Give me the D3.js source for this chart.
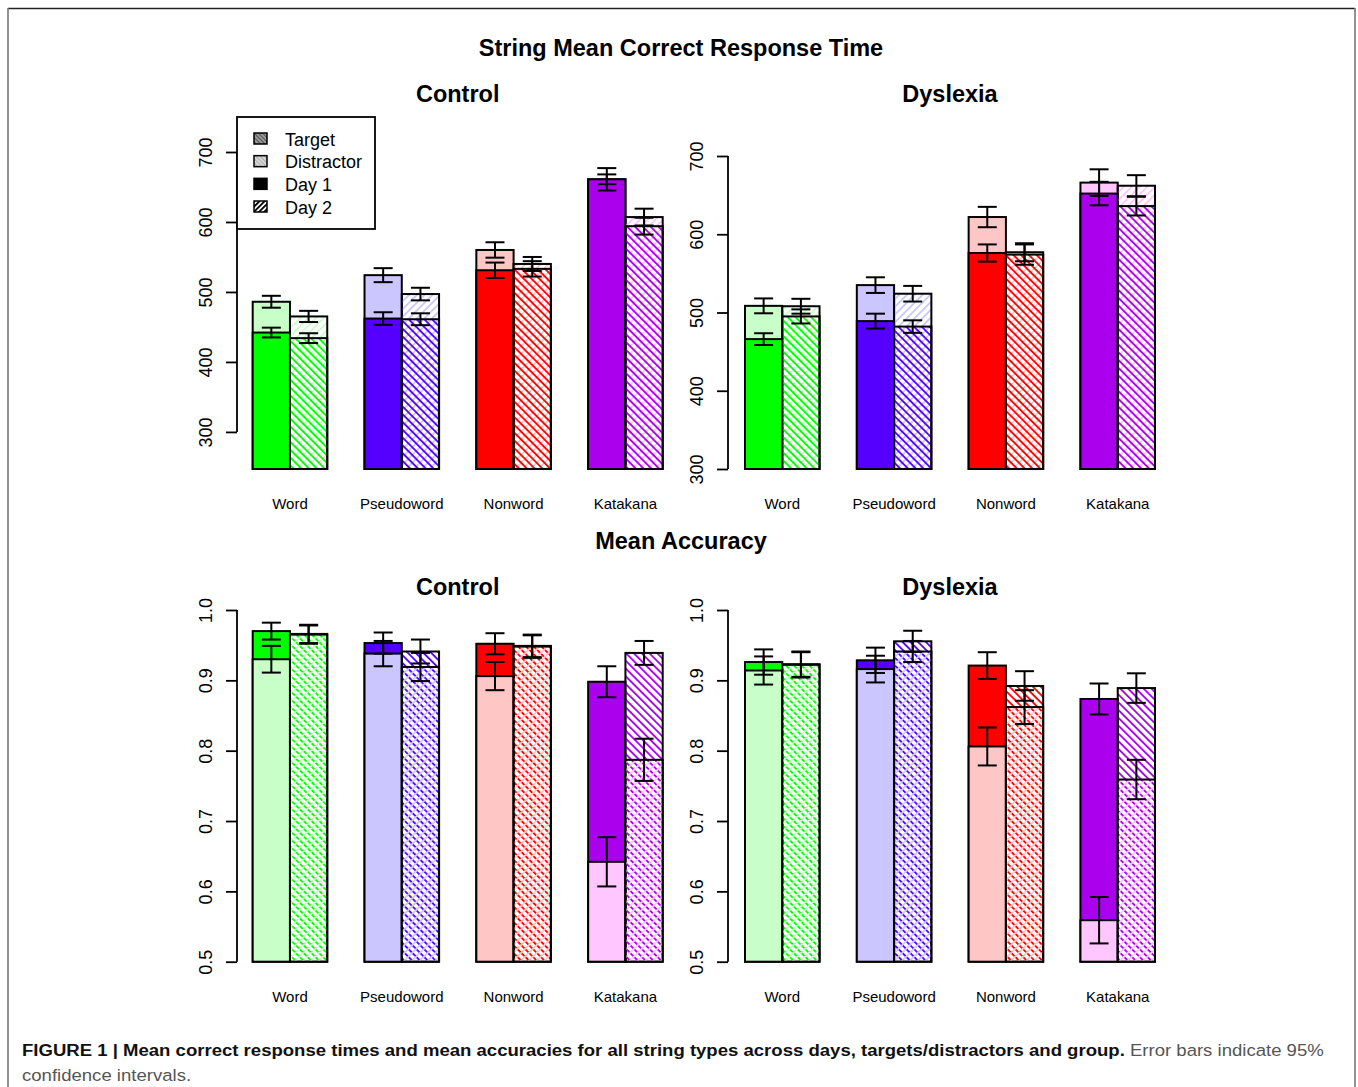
<!DOCTYPE html>
<html>
<head>
<meta charset="utf-8">
<script src="https://cdn.jsdelivr.net/npm/d3@7"></script>
<style>
  body { margin: 0; background: #fff; }
  svg text { font-family: "Liberation Sans", Arial, Helvetica, sans-serif; }
</style>
</head>
<body>
<svg id="fig" width="1358" height="1087"></svg>
<script>
// String types and their colour pairs (target = saturated, distractor = pale)
const categories = ['Word', 'Pseudoword', 'Nonword', 'Katakana'];
const darkColors = ['#00FF00', '#5500FF', '#FF0000', '#AA00EE'];
const lightColors = ['#C8FFC8', '#CCC6FF', '#FFC6C6', '#FFC6FF'];

const rtTicks = [300, 400, 500, 600, 700];
const accTicks = [0.5, 0.6, 0.7, 0.8, 0.9, 1.0];
const accTickLabels = ['0.5', '0.6', '0.7', '0.8', '0.9', '1.0'];

// Mean correct response time (ms) and 95% CI half-widths — Control
const rtControlTargetDay1 = [442, 462, 531, 661];
const rtControlTargetDay1CI = [7, 9, 11, 16];
const rtControlDistractorDay1 = [486, 524, 560, 661];
const rtControlDistractorDay1CI = [8.5, 10, 11, 7];
const rtControlTargetDay2 = [434, 461, 533, 594];
const rtControlTargetDay2CI = [7, 8.5, 11, 12];
const rtControlDistractorDay2 = [465, 497, 540, 607];
const rtControlDistractorDay2CI = [8, 9, 10, 12];

// Mean correct response time (ms) — Dyslexia
const rtDyslexiaTargetDay1 = [466, 489, 576, 652];
const rtDyslexiaTargetDay1CI = [7.5, 9.5, 11, 15];
const rtDyslexiaDistractorDay1 = [508.5, 535, 622, 666];
const rtDyslexiaDistractorDay1CI = [9.5, 10, 13, 17];
const rtDyslexiaTargetDay2 = [495, 482, 574, 636];
const rtDyslexiaTargetDay2CI = [9, 8, 13, 12];
const rtDyslexiaDistractorDay2 = [508, 524, 577, 662];
const rtDyslexiaDistractorDay2CI = [9.5, 10, 11.5, 13.5];

// Mean accuracy — Control
const accControlTargetDay1 = [0.970, 0.953, 0.952, 0.898];
const accControlTargetDay1CI = [0.012, 0.015, 0.015, 0.022];
const accControlDistractorDay1 = [0.930, 0.938, 0.906, 0.642];
const accControlDistractorDay1CI = [0.019, 0.018, 0.020, 0.035];
const accControlTargetDay2 = [0.966, 0.941, 0.949, 0.939];
const accControlTargetDay2CI = [0.013, 0.017, 0.016, 0.017];
const accControlDistractorDay2 = [0.965, 0.919, 0.948, 0.787];
const accControlDistractorDay2CI = [0.013, 0.020, 0.016, 0.030];

// Mean accuracy — Dyslexia
const accDyslexiaTargetDay1 = [0.926, 0.9285, 0.921, 0.8735];
const accDyslexiaTargetDay1CI = [0.018, 0.018, 0.019, 0.022];
const accDyslexiaDistractorDay1 = [0.914, 0.916, 0.806, 0.559];
const accDyslexiaDistractorDay1CI = [0.020, 0.019, 0.027, 0.033];
const accDyslexiaTargetDay2 = [0.923, 0.9555, 0.892, 0.889];
const accDyslexiaTargetDay2CI = [0.018, 0.015, 0.021, 0.021];
const accDyslexiaDistractorDay2 = [0.922, 0.941, 0.862, 0.759];
const accDyslexiaDistractorDay2CI = [0.018, 0.015, 0.024, 0.028];

const svg = d3.select('#fig');
const defs = svg.append('defs');

// Diagonal hatch fills: target lines run "\" in the strong colour, distractor lines run "/" in the pale colour
function hatch(id, color, angle, spacing, width) {
  const p = defs.append('pattern')
    .attr('id', id)
    .attr('patternUnits', 'userSpaceOnUse')
    .attr('width', spacing).attr('height', spacing)
    .attr('patternTransform', `rotate(${angle})`);
  p.append('line')
    .attr('x1', spacing / 2).attr('x2', spacing / 2)
    .attr('y1', -1).attr('y2', spacing + 1)
    .attr('stroke', color).attr('stroke-width', width);
}
categories.forEach((c, i) => {
  hatch(`hT${i}`, darkColors[i], -45, 5.5, 1.8);
  hatch(`hD${i}`, lightColors[i], 45, 5.5, 1.8);
});
hatch('legT', '#555', -45, 3, 1);
hatch('legD', '#aaa', -45, 3, 1);
hatch('leg2', '#000', 45, 3.6, 1.9);

// Outer frame
svg.append('line').attr('x1', 8).attr('x2', 1355).attr('y1', 8.5).attr('y2', 8.5)
  .attr('stroke', '#222').attr('stroke-width', 1.6);
svg.append('line').attr('x1', 8).attr('x2', 8).attr('y1', 8).attr('y2', 1087)
  .attr('stroke', '#777').attr('stroke-width', 1.6);
svg.append('line').attr('x1', 1355).attr('x2', 1355).attr('y1', 8).attr('y2', 1087)
  .attr('stroke', '#777').attr('stroke-width', 1.6);

// Section headings
function bold(x, y, t, size) {
  svg.append('text').attr('x', x).attr('y', y).attr('text-anchor', 'middle')
    .attr('font-size', size).attr('font-weight', 'bold').attr('fill', '#000').text(t);
}
bold(681, 56, 'String Mean Correct Response Time', 23.5);
bold(681, 549, 'Mean Accuracy', 23.5);

const panels = [
  { title: 'Control', titleY: 102, yDomain: [247, 700], yRange: [469, 152], ticks: rtTicks, labels: rtTicks.map(String),
    xRange: [252.7, 662.7], axisX: 237, catY: 509,
    t1: rtControlTargetDay1, t1ci: rtControlTargetDay1CI, d1: rtControlDistractorDay1, d1ci: rtControlDistractorDay1CI,
    t2: rtControlTargetDay2, t2ci: rtControlTargetDay2CI, d2: rtControlDistractorDay2, d2ci: rtControlDistractorDay2CI },
  { title: 'Dyslexia', titleY: 102, yDomain: [300, 700], yRange: [469, 156], ticks: rtTicks, labels: rtTicks.map(String),
    xRange: [745, 1155], axisX: 728, catY: 509,
    t1: rtDyslexiaTargetDay1, t1ci: rtDyslexiaTargetDay1CI, d1: rtDyslexiaDistractorDay1, d1ci: rtDyslexiaDistractorDay1CI,
    t2: rtDyslexiaTargetDay2, t2ci: rtDyslexiaTargetDay2CI, d2: rtDyslexiaDistractorDay2, d2ci: rtDyslexiaDistractorDay2CI },
  { title: 'Control', titleY: 595, yDomain: [0.5, 1.0], yRange: [961.7, 610], ticks: accTicks, labels: accTickLabels,
    xRange: [252.7, 662.7], axisX: 237, catY: 1002,
    t1: accControlTargetDay1, t1ci: accControlTargetDay1CI, d1: accControlDistractorDay1, d1ci: accControlDistractorDay1CI,
    t2: accControlTargetDay2, t2ci: accControlTargetDay2CI, d2: accControlDistractorDay2, d2ci: accControlDistractorDay2CI },
  { title: 'Dyslexia', titleY: 595, yDomain: [0.5, 1.0], yRange: [961.7, 610], ticks: accTicks, labels: accTickLabels,
    xRange: [745, 1155], axisX: 728, catY: 1002,
    t1: accDyslexiaTargetDay1, t1ci: accDyslexiaTargetDay1CI, d1: accDyslexiaDistractorDay1, d1ci: accDyslexiaDistractorDay1CI,
    t2: accDyslexiaTargetDay2, t2ci: accDyslexiaTargetDay2CI, d2: accDyslexiaDistractorDay2, d2ci: accDyslexiaDistractorDay2CI }
];

panels.forEach(p => {
  const y = d3.scaleLinear().domain(p.yDomain).range(p.yRange);
  const x = d3.scaleBand().domain(categories).range(p.xRange).paddingInner(1 / 3).paddingOuter(0);
  const day = d3.scaleBand().domain(['Day 1', 'Day 2']).range([0, x.bandwidth()]);
  const base = y(p.yDomain[0]);
  const g = svg.append('g');

  bold((p.xRange[0] + p.xRange[1]) / 2, p.titleY, p.title, 23.5);

  // y axis, drawn by d3 and trimmed to the tick span
  const ax = svg.append('g').attr('transform', `translate(${p.axisX},0)`)
    .call(d3.axisLeft(y).tickValues(p.ticks).tickSize(11).tickFormat((d, i) => p.labels[i]));
  ax.select('.domain').remove();
  ax.selectAll('.tick line').attr('stroke', '#000').attr('stroke-width', 1.8);
  ax.selectAll('.tick text')
    .attr('transform', 'rotate(-90)').attr('x', 0).attr('y', -25).attr('dy', null)
    .attr('text-anchor', 'middle').attr('font-size', 18).attr('fill', '#000')
    .style('font-family', '"Liberation Sans", Arial, sans-serif');
  ax.append('line').attr('x1', 0).attr('x2', 0)
    .attr('y1', y(p.ticks[0])).attr('y2', y(p.ticks[p.ticks.length - 1]))
    .attr('stroke', '#000').attr('stroke-width', 1.8);

  categories.forEach((c, i) => {
    const days = [
      { key: 'Day 1', t: p.t1[i], tci: p.t1ci[i], d: p.d1[i], dci: p.d1ci[i],
        tFill: darkColors[i], dFill: lightColors[i] },
      { key: 'Day 2', t: p.t2[i], tci: p.t2ci[i], d: p.d2[i], dci: p.d2ci[i],
        tFill: `url(#hT${i})`, dFill: `url(#hD${i})` }
    ];
    days.forEach(dd => {
      const x0 = x(c) + day(dd.key);
      const w = day.bandwidth();
      // taller bar behind, shorter bar in front; on a tie the target sits in front
      const bars = [
        { v: dd.d, ci: dd.dci, fill: dd.dFill },
        { v: dd.t, ci: dd.tci, fill: dd.tFill }
      ].sort((a, b) => b.v - a.v);
      bars.forEach(b => {
        g.append('rect')
          .attr('x', x0).attr('width', w)
          .attr('y', y(b.v)).attr('height', base - y(b.v))
          .attr('fill', b.fill)
          .attr('stroke', '#000').attr('stroke-width', 2);
      });
      bars.forEach(b => {
        const cx = x0 + w / 2;
        const lo = y(b.v - b.ci), hi = y(b.v + b.ci);
        g.append('line').attr('x1', cx).attr('x2', cx).attr('y1', lo).attr('y2', hi)
          .attr('stroke', '#000').attr('stroke-width', 2);
        [lo, hi].forEach(yy => g.append('line')
          .attr('x1', cx - 9.5).attr('x2', cx + 9.5).attr('y1', yy).attr('y2', yy)
          .attr('stroke', '#000').attr('stroke-width', 2));
      });
    });
    svg.append('text').attr('x', x(c) + x.bandwidth() / 2).attr('y', p.catY)
      .attr('text-anchor', 'middle').attr('font-size', 15).attr('fill', '#000').text(c);
  });
});

// Legend
const legend = svg.append('g');
legend.append('rect').attr('x', 237).attr('y', 117).attr('width', 138).attr('height', 112)
  .attr('fill', '#fff').attr('stroke', '#000').attr('stroke-width', 1.8);
const legendLabels = ['Target', 'Distractor', 'Day 1', 'Day 2'];
const legendFills = [['#999', 'url(#legT)'], ['#d8d8d8', 'url(#legD)'], ['#000', null], ['#fff', 'url(#leg2)']];
const legendY = d3.scalePoint().domain(legendLabels).range([139, 207]);
legendLabels.forEach((l, i) => {
  const yy = legendY(l);
  legend.append('rect').attr('x', 254).attr('y', yy - 6).attr('width', 13).attr('height', 11)
    .attr('fill', legendFills[i][0]);
  if (legendFills[i][1]) {
    legend.append('rect').attr('x', 254).attr('y', yy - 6).attr('width', 13).attr('height', 11)
      .attr('fill', legendFills[i][1]);
  }
  legend.append('rect').attr('x', 254).attr('y', yy - 6).attr('width', 13).attr('height', 11)
    .attr('fill', 'none').attr('stroke', '#000').attr('stroke-width', 1.5);
  legend.append('text').attr('x', 285).attr('y', yy + 6.5).attr('font-size', 18).attr('fill', '#000').text(l);
});

// Figure caption
const cap = svg.append('g');
const line1 = cap.append('text').attr('x', 22).attr('y', 1056).attr('font-size', 17);
line1.append('tspan').attr('font-weight', 'bold').attr('fill', '#111')
  .text('FIGURE 1 | Mean correct response times and mean accuracies for all string types across days, targets/distractors and group.');
line1.append('tspan').attr('fill', '#555').text(' Error bars indicate 95%');
const line2 = cap.append('text').attr('x', 22).attr('y', 1081).attr('font-size', 17)
  .attr('fill', '#555').text('confidence intervals.');
const natural = line1.node().getComputedTextLength();
const sx = 1303 / natural;
[line1, line2].forEach(t => t.attr('transform', `translate(22,0) scale(${sx},1) translate(-22,0)`));
</script>
</body>
</html>
